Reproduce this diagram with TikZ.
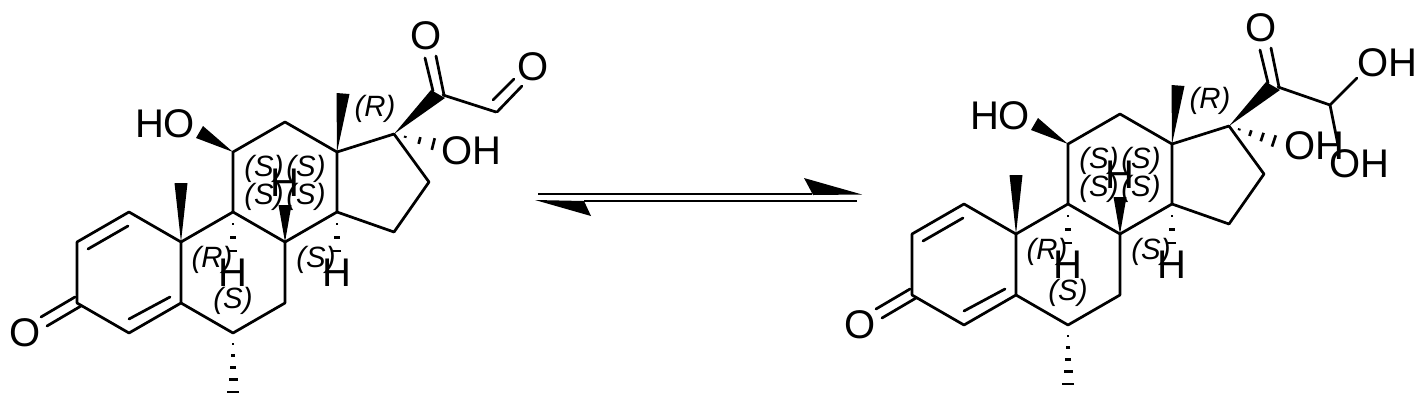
\documentclass[tikz,border=0pt]{standalone}
\usepackage{fontspec}
\setmainfont{Liberation Sans}
\usetikzlibrary{calc}
\tikzset{
  bondline/.style={line width=2.05pt,line cap=round,line join=round,black},
  hashline/.style={line width=2pt,black},
  atomtext/.style={inner sep=0pt,font=\fontsize{30}{30}\selectfont,text=black},
  stereotext/.style={inner sep=0pt,font=\fontsize{22}{22}\selectfont\itshape,text=black},
  arrowline/.style={line width=1.7pt,black},
}
\newcommand{\hashbond}[3]{%
  \foreach \t/\w in {#3} {
    \draw[hashline] ($(#1)!\t!(#2)!\w*0.75pt!90:(#2)$) -- ($(#1)!\t!(#2)!\w*0.75pt!-90:(#2)$);
  }}
\newcommand{\steroidcore}{%
  \coordinate (c1) at (129,212);
  \coordinate (c2) at (77,242);
  \coordinate (c3) at (77,303);
  \coordinate (c4) at (129,333);
  \coordinate (c5) at (181,303);
  \coordinate (c6) at (233,333);
  \coordinate (c7) at (285,303);
  \coordinate (c8) at (285,242);
  \coordinate (c9) at (233,212);
  \coordinate (c10) at (181,242);
  \coordinate (c11) at (233,152);
  \coordinate (c12) at (285,122);
  \coordinate (c13) at (337,152);
  \coordinate (c14) at (337,212);
  \coordinate (c15) at (394,232);
  \coordinate (c16) at (429,182);
  \coordinate (c17) at (394,134);
  \coordinate (c20) at (443,95);
  \coordinate (d1a) at (88,249);
  \coordinate (d1b) at (128,226);
  \coordinate (d2a) at (129,319);
  \coordinate (d2b) at (170,297);
  \coordinate (o3a) at (41,317);
  \coordinate (o3b) at (75,297);
  \coordinate (o3c) at (47,326);
  \coordinate (o3d) at (81,306);
  \coordinate (o20a) at (425,58);
  \coordinate (o20b) at (433,91);
  \coordinate (o20c) at (436,56);
  \coordinate (o20d) at (444,95);
  \coordinate (m10a) at (174.5,183);
  \coordinate (m10b) at (187.5,183);
  \coordinate (m13a) at (336.5,93);
  \coordinate (m13b) at (349.5,94);
  \coordinate (h8a) at (278.5,205);
  \coordinate (h8b) at (291.5,205);
  \coordinate (o11a) at (196,138);
  \coordinate (o11b) at (203,126);
  \coordinate (w20a) at (431,90);
  \coordinate (w20b) at (445,98);
  \coordinate (me6) at (233,402);
  \coordinate (h9end) at (233,272);
  \coordinate (h14end) at (337,272);
  \draw[bondline] (c1)--(c2) (c2)--(c3) (c3)--(c4) (c4)--(c5) (c5)--(c10) (c10)--(c1);
  \draw[bondline] (c5)--(c6) (c6)--(c7) (c7)--(c8) (c8)--(c9) (c9)--(c10);
  \draw[bondline] (c9)--(c11) (c11)--(c12) (c12)--(c13) (c13)--(c14) (c14)--(c8);
  \draw[bondline] (c14)--(c15) (c15)--(c16) (c16)--(c17) (c17)--(c13);
  \draw[bondline] (d1a)--(d1b) (d2a)--(d2b) (o3a)--(o3b) (o3c)--(o3d) (o20a)--(o20b) (o20c)--(o20d);
  \fill[black] (c10)--(m10a)--(m10b)--cycle;
  \fill[black] (c13)--(m13a)--(m13b)--cycle;
  \fill[black] (c8)--(h8a)--(h8b)--cycle;
  \fill[black] (c11)--(o11a)--(o11b)--cycle;
  \fill[black] (c17)--(w20a)--(w20b)--cycle;
  \hashbond{c6}{me6}{.16/1,.33/2,.5/3,.67/4.5,.855/6}
  \hashbond{c9}{h9end}{.2/1,.43/2.7,.65/4}
  \hashbond{c14}{h14end}{.2/1,.43/2.7,.65/4}
  \node[atomtext] (oket) at (25,333) {O};
  \node[atomtext] (oh11) at (165,124) {HO};
  \node[atomtext] (o20) at (426,36) {O};
  \node[atomtext] (h9) at (233,272.5) {H};
  \node[atomtext] (h8) at (285,183) {H};
  \node[atomtext] (h14) at (337,273) {H};
  \node[stereotext] (s1) at (375,109) {(R)};
  \node[stereotext] (s2) at (264,169) {(S)};
  \node[stereotext] (s3) at (306,169) {(S)};
  \node[stereotext] (s4) at (264,197) {(S)};
  \node[stereotext] (s5) at (306,197) {(S)};
  \node[stereotext] (s6) at (212,260) {(R)};
  \node[stereotext] (s7) at (316,260) {(S)};
  \node[stereotext] (s8) at (233,301) {(S)};
}
\begin{document}
\begin{tikzpicture}[x=0.75pt,y=-0.75pt]
\useasboundingbox (0,0) rectangle (1428,401);
\fill[white] (0,0) rectangle (1428,401);
\begin{scope}[name prefix=l-]
  \steroidcore
  \coordinate (c21) at (496,112);
  \coordinate (o21a) at (493,100);
  \coordinate (o21b) at (514,79);
  \coordinate (o21c) at (497,112);
  \coordinate (o21d) at (522,86);
  \coordinate (oh17end) at (445,147);
  \draw[bondline] (c20)--(c21) (o21a)--(o21b) (o21c)--(o21d);
  \hashbond{c17}{oh17end}{.22/1,.5/3.5,.77/6}
  \node[atomtext] (o21) at (533,67) {O};
  \node[atomtext] (oh17) at (471,151) {OH};
\end{scope}
\begin{scope}[shift={(835,-8)},name prefix=r-]
  \steroidcore
  \coordinate (c21) at (495,113);
  \coordinate (oh1e) at (522,86);
  \coordinate (oh2e) at (503,153);
  \coordinate (oh17end) at (445,151);
  \draw[bondline] (c20)--(c21) (c21)--(oh1e) (c21)--(oh2e);
  \hashbond{c17}{oh17end}{.2/1,.42/3,.65/4.5,.88/6}
  \node[atomtext] (oh21a) at (552,71) {OH};
  \node[atomtext] (oh21b) at (524,172) {OH};
  \node[atomtext] (oh17) at (479,154) {OH};
\end{scope}
\coordinate (a1s) at (538,193.7);
\coordinate (a1e) at (862,194.5);
\coordinate (a1b) at (804,178);
\coordinate (a1n) at (812,193);
\coordinate (a1m) at (812,193.7);
\coordinate (a1q) at (813,195);
\coordinate (a2s) at (857,201);
\coordinate (a2e) at (535,200);
\coordinate (a2b) at (591,216);
\coordinate (a2n) at (584,201);
\draw[arrowline] (a1s)--(a1m);
\fill[black] (a1e)--(a1b)--(a1n)--(a1q)--cycle;
\draw[arrowline] (a2s)--(a2n);
\fill[black] (a2e)--(a2b)--(a2n)--cycle;
\end{tikzpicture}
\end{document}
